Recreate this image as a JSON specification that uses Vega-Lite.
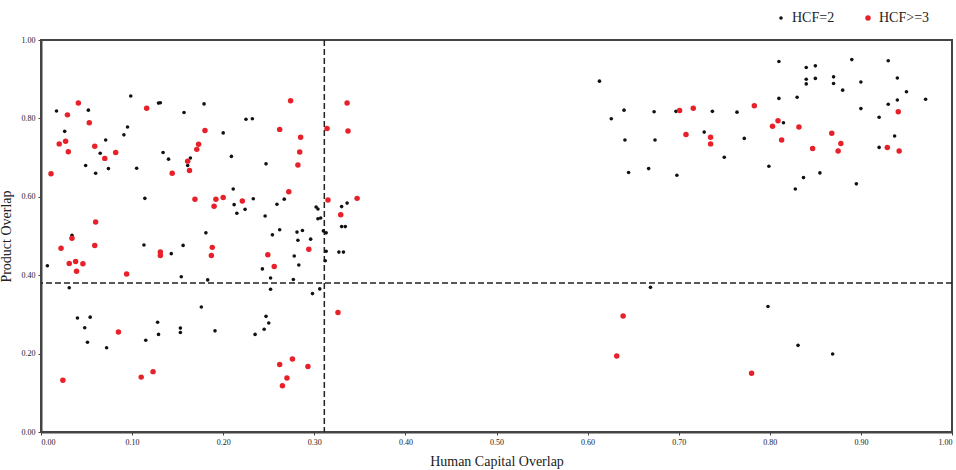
{
  "$schema": "https://vega.github.io/schema/vega-lite/v6.json",
  "width": 911,
  "height": 392,
  "autosize": {"type": "none"},
  "padding": {"left": 41, "top": 40, "right": 4, "bottom": 38},
  "background": "white",
  "config": {
    "view": {"stroke": "#444", "strokeWidth": 2},
    "axis": {
      "grid": false,
      "labelFont": "Liberation Serif",
      "labelFontSize": 8,
      "labelColor": "#222",
      "titleFont": "Liberation Serif",
      "titleFontSize": 14,
      "titleFontWeight": "normal",
      "titleColor": "#222",
      "domainColor": "#444",
      "domainWidth": 2,
      "tickColor": "#444",
      "tickSize": 3
    }
  },
  "datasets": {
    "pts": [
      {"x":0.613,"y":0.895,"g":"HCF=2"},{"x":0.626,"y":0.799,"g":"HCF=2"},{"x":0.640,"y":0.821,"g":"HCF=2"},{"x":0.641,"y":0.745,"g":"HCF=2"},{"x":0.645,"y":0.662,"g":"HCF=2"},{"x":0.667,"y":0.672,"g":"HCF=2"},{"x":0.673,"y":0.817,"g":"HCF=2"},{"x":0.674,"y":0.745,"g":"HCF=2"},{"x":0.697,"y":0.818,"g":"HCF=2"},{"x":0.698,"y":0.655,"g":"HCF=2"},{"x":0.728,"y":0.765,"g":"HCF=2"},{"x":0.737,"y":0.818,"g":"HCF=2"},{"x":0.750,"y":0.701,"g":"HCF=2"},{"x":0.764,"y":0.816,"g":"HCF=2"},{"x":0.772,"y":0.749,"g":"HCF=2"},{"x":0.799,"y":0.678,"g":"HCF=2"},{"x":0.810,"y":0.945,"g":"HCF=2"},{"x":0.840,"y":0.930,"g":"HCF=2"},{"x":0.850,"y":0.934,"g":"HCF=2"},{"x":0.890,"y":0.950,"g":"HCF=2"},{"x":0.930,"y":0.947,"g":"HCF=2"},{"x":0.840,"y":0.900,"g":"HCF=2"},{"x":0.850,"y":0.902,"g":"HCF=2"},{"x":0.840,"y":0.888,"g":"HCF=2"},{"x":0.870,"y":0.906,"g":"HCF=2"},{"x":0.870,"y":0.889,"g":"HCF=2"},{"x":0.900,"y":0.893,"g":"HCF=2"},{"x":0.940,"y":0.903,"g":"HCF=2"},{"x":0.880,"y":0.872,"g":"HCF=2"},{"x":0.950,"y":0.868,"g":"HCF=2"},{"x":0.810,"y":0.851,"g":"HCF=2"},{"x":0.830,"y":0.854,"g":"HCF=2"},{"x":0.940,"y":0.847,"g":"HCF=2"},{"x":0.971,"y":0.849,"g":"HCF=2"},{"x":0.930,"y":0.836,"g":"HCF=2"},{"x":0.900,"y":0.825,"g":"HCF=2"},{"x":0.920,"y":0.803,"g":"HCF=2"},{"x":0.815,"y":0.789,"g":"HCF=2"},{"x":0.937,"y":0.755,"g":"HCF=2"},{"x":0.920,"y":0.726,"g":"HCF=2"},{"x":0.855,"y":0.661,"g":"HCF=2"},{"x":0.837,"y":0.649,"g":"HCF=2"},{"x":0.828,"y":0.620,"g":"HCF=2"},{"x":0.895,"y":0.633,"g":"HCF=2"},{"x":0.669,"y":0.369,"g":"HCF=2"},{"x":0.798,"y":0.320,"g":"HCF=2"},{"x":0.831,"y":0.221,"g":"HCF=2"},{"x":0.869,"y":0.199,"g":"HCF=2"},
      {"x":0.0985,"y":0.857,"g":"HCF=2"},{"x":0.129,"y":0.839,"g":"HCF=2"},{"x":0.131,"y":0.840,"g":"HCF=2"},{"x":0.017,"y":0.819,"g":"HCF=2"},{"x":0.052,"y":0.821,"g":"HCF=2"},{"x":0.157,"y":0.815,"g":"HCF=2"},{"x":0.026,"y":0.767,"g":"HCF=2"},{"x":0.095,"y":0.778,"g":"HCF=2"},{"x":0.091,"y":0.758,"g":"HCF=2"},{"x":0.071,"y":0.745,"g":"HCF=2"},{"x":0.065,"y":0.711,"g":"HCF=2"},{"x":0.074,"y":0.672,"g":"HCF=2"},{"x":0.049,"y":0.680,"g":"HCF=2"},{"x":0.060,"y":0.660,"g":"HCF=2"},{"x":0.105,"y":0.673,"g":"HCF=2"},{"x":0.134,"y":0.713,"g":"HCF=2"},{"x":0.140,"y":0.696,"g":"HCF=2"},{"x":0.164,"y":0.699,"g":"HCF=2"},{"x":0.161,"y":0.680,"g":"HCF=2"},{"x":0.114,"y":0.596,"g":"HCF=2"},{"x":0.034,"y":0.502,"g":"HCF=2"},{"x":0.113,"y":0.477,"g":"HCF=2"},{"x":0.156,"y":0.476,"g":"HCF=2"},{"x":0.179,"y":0.837,"g":"HCF=2"},{"x":0.225,"y":0.798,"g":"HCF=2"},{"x":0.232,"y":0.799,"g":"HCF=2"},{"x":0.200,"y":0.763,"g":"HCF=2"},{"x":0.209,"y":0.703,"g":"HCF=2"},{"x":0.247,"y":0.684,"g":"HCF=2"},{"x":0.211,"y":0.620,"g":"HCF=2"},{"x":0.233,"y":0.595,"g":"HCF=2"},{"x":0.212,"y":0.580,"g":"HCF=2"},{"x":0.224,"y":0.568,"g":"HCF=2"},{"x":0.215,"y":0.558,"g":"HCF=2"},{"x":0.259,"y":0.581,"g":"HCF=2"},{"x":0.267,"y":0.594,"g":"HCF=2"},{"x":0.246,"y":0.551,"g":"HCF=2"},{"x":0.181,"y":0.508,"g":"HCF=2"},{"x":0.254,"y":0.503,"g":"HCF=2"},{"x":0.262,"y":0.516,"g":"HCF=2"},{"x":0.281,"y":0.510,"g":"HCF=2"},{"x":0.287,"y":0.514,"g":"HCF=2"},{"x":0.282,"y":0.489,"g":"HCF=2"},{"x":0.296,"y":0.492,"g":"HCF=2"},{"x":0.302,"y":0.574,"g":"HCF=2"},{"x":0.304,"y":0.569,"g":"HCF=2"},{"x":0.304,"y":0.544,"g":"HCF=2"},{"x":0.307,"y":0.546,"g":"HCF=2"},{"x":0.310,"y":0.513,"g":"HCF=2"},{"x":0.313,"y":0.508,"g":"HCF=2"},{"x":0.330,"y":0.575,"g":"HCF=2"},{"x":0.336,"y":0.584,"g":"HCF=2"},{"x":0.330,"y":0.524,"g":"HCF=2"},{"x":0.334,"y":0.524,"g":"HCF=2"},{"x":0.007,"y":0.424,"g":"HCF=2"},{"x":0.143,"y":0.455,"g":"HCF=2"},{"x":0.154,"y":0.396,"g":"HCF=2"},{"x":0.031,"y":0.368,"g":"HCF=2"},{"x":0.040,"y":0.291,"g":"HCF=2"},{"x":0.054,"y":0.293,"g":"HCF=2"},{"x":0.048,"y":0.266,"g":"HCF=2"},{"x":0.051,"y":0.229,"g":"HCF=2"},{"x":0.072,"y":0.215,"g":"HCF=2"},{"x":0.115,"y":0.234,"g":"HCF=2"},{"x":0.128,"y":0.280,"g":"HCF=2"},{"x":0.129,"y":0.249,"g":"HCF=2"},{"x":0.153,"y":0.265,"g":"HCF=2"},{"x":0.153,"y":0.254,"g":"HCF=2"},{"x":0.278,"y":0.449,"g":"HCF=2"},{"x":0.283,"y":0.426,"g":"HCF=2"},{"x":0.243,"y":0.416,"g":"HCF=2"},{"x":0.252,"y":0.393,"g":"HCF=2"},{"x":0.277,"y":0.389,"g":"HCF=2"},{"x":0.183,"y":0.388,"g":"HCF=2"},{"x":0.252,"y":0.364,"g":"HCF=2"},{"x":0.298,"y":0.353,"g":"HCF=2"},{"x":0.306,"y":0.365,"g":"HCF=2"},{"x":0.176,"y":0.319,"g":"HCF=2"},{"x":0.247,"y":0.295,"g":"HCF=2"},{"x":0.250,"y":0.278,"g":"HCF=2"},{"x":0.245,"y":0.262,"g":"HCF=2"},{"x":0.235,"y":0.249,"g":"HCF=2"},{"x":0.191,"y":0.258,"g":"HCF=2"},{"x":0.313,"y":0.461,"g":"HCF=2"},{"x":0.327,"y":0.459,"g":"HCF=2"},{"x":0.332,"y":0.459,"g":"HCF=2"},{"x":0.312,"y":0.437,"g":"HCF=2"},
      {"x":0.701,"y":0.820,"g":"HCF>=3"},{"x":0.716,"y":0.826,"g":"HCF>=3"},{"x":0.708,"y":0.759,"g":"HCF>=3"},{"x":0.735,"y":0.752,"g":"HCF>=3"},{"x":0.735,"y":0.735,"g":"HCF>=3"},{"x":0.783,"y":0.832,"g":"HCF>=3"},{"x":0.809,"y":0.794,"g":"HCF>=3"},{"x":0.803,"y":0.780,"g":"HCF>=3"},{"x":0.832,"y":0.778,"g":"HCF>=3"},{"x":0.813,"y":0.745,"g":"HCF>=3"},{"x":0.868,"y":0.762,"g":"HCF>=3"},{"x":0.878,"y":0.736,"g":"HCF>=3"},{"x":0.875,"y":0.717,"g":"HCF>=3"},{"x":0.847,"y":0.723,"g":"HCF>=3"},{"x":0.929,"y":0.726,"g":"HCF>=3"},{"x":0.942,"y":0.717,"g":"HCF>=3"},{"x":0.941,"y":0.817,"g":"HCF>=3"},{"x":0.639,"y":0.296,"g":"HCF>=3"},{"x":0.632,"y":0.194,"g":"HCF>=3"},{"x":0.780,"y":0.150,"g":"HCF>=3"},
      {"x":0.041,"y":0.839,"g":"HCF>=3"},{"x":0.029,"y":0.809,"g":"HCF>=3"},{"x":0.116,"y":0.826,"g":"HCF>=3"},{"x":0.053,"y":0.789,"g":"HCF>=3"},{"x":0.027,"y":0.742,"g":"HCF>=3"},{"x":0.020,"y":0.735,"g":"HCF>=3"},{"x":0.030,"y":0.715,"g":"HCF>=3"},{"x":0.059,"y":0.729,"g":"HCF>=3"},{"x":0.070,"y":0.698,"g":"HCF>=3"},{"x":0.082,"y":0.713,"g":"HCF>=3"},{"x":0.011,"y":0.659,"g":"HCF>=3"},{"x":0.144,"y":0.660,"g":"HCF>=3"},{"x":0.173,"y":0.734,"g":"HCF>=3"},{"x":0.171,"y":0.721,"g":"HCF>=3"},{"x":0.161,"y":0.691,"g":"HCF>=3"},{"x":0.163,"y":0.667,"g":"HCF>=3"},{"x":0.169,"y":0.594,"g":"HCF>=3"},{"x":0.060,"y":0.536,"g":"HCF>=3"},{"x":0.034,"y":0.494,"g":"HCF>=3"},{"x":0.022,"y":0.469,"g":"HCF>=3"},{"x":0.059,"y":0.476,"g":"HCF>=3"},{"x":0.180,"y":0.769,"g":"HCF>=3"},{"x":0.274,"y":0.845,"g":"HCF>=3"},{"x":0.336,"y":0.839,"g":"HCF>=3"},{"x":0.262,"y":0.772,"g":"HCF>=3"},{"x":0.314,"y":0.774,"g":"HCF>=3"},{"x":0.337,"y":0.768,"g":"HCF>=3"},{"x":0.285,"y":0.752,"g":"HCF>=3"},{"x":0.284,"y":0.714,"g":"HCF>=3"},{"x":0.282,"y":0.681,"g":"HCF>=3"},{"x":0.272,"y":0.613,"g":"HCF>=3"},{"x":0.192,"y":0.594,"g":"HCF>=3"},{"x":0.190,"y":0.576,"g":"HCF>=3"},{"x":0.200,"y":0.598,"g":"HCF>=3"},{"x":0.221,"y":0.589,"g":"HCF>=3"},{"x":0.315,"y":0.592,"g":"HCF>=3"},{"x":0.347,"y":0.596,"g":"HCF>=3"},{"x":0.329,"y":0.554,"g":"HCF>=3"},{"x":0.188,"y":0.471,"g":"HCF>=3"},{"x":0.294,"y":0.466,"g":"HCF>=3"},{"x":0.031,"y":0.430,"g":"HCF>=3"},{"x":0.038,"y":0.435,"g":"HCF>=3"},{"x":0.046,"y":0.429,"g":"HCF>=3"},{"x":0.039,"y":0.410,"g":"HCF>=3"},{"x":0.094,"y":0.403,"g":"HCF>=3"},{"x":0.131,"y":0.459,"g":"HCF>=3"},{"x":0.131,"y":0.450,"g":"HCF>=3"},{"x":0.085,"y":0.255,"g":"HCF>=3"},{"x":0.024,"y":0.132,"g":"HCF>=3"},{"x":0.110,"y":0.140,"g":"HCF>=3"},{"x":0.123,"y":0.154,"g":"HCF>=3"},{"x":0.187,"y":0.450,"g":"HCF>=3"},{"x":0.249,"y":0.452,"g":"HCF>=3"},{"x":0.256,"y":0.422,"g":"HCF>=3"},{"x":0.326,"y":0.305,"g":"HCF>=3"},{"x":0.276,"y":0.186,"g":"HCF>=3"},{"x":0.262,"y":0.172,"g":"HCF>=3"},{"x":0.293,"y":0.167,"g":"HCF>=3"},{"x":0.270,"y":0.138,"g":"HCF>=3"},{"x":0.265,"y":0.118,"g":"HCF>=3"}
    ],
    "vline": [{"v": 0.311}],
    "hline": [{"v": 0.38}]
  },
  "layer": [
    {
      "data": {"name": "vline"},
      "mark": {"type": "rule", "strokeDash": [6, 3], "strokeWidth": 1.5, "color": "#222"},
      "encoding": {"x": {"field": "v", "type": "quantitative"}}
    },
    {
      "data": {"name": "hline"},
      "mark": {"type": "rule", "strokeDash": [6, 3], "strokeWidth": 1.5, "color": "#222"},
      "encoding": {"y": {"field": "v", "type": "quantitative"}}
    },
    {
      "data": {"name": "pts"},
      "mark": {"type": "circle", "opacity": 1},
      "encoding": {
        "x": {
          "field": "x", "type": "quantitative",
          "scale": {"domain": [0, 1], "nice": false, "zero": false},
          "axis": {"values": [0,0.1,0.2,0.3,0.4,0.5,0.6,0.7,0.8,0.9,1.0], "format": ".2f", "title": "Human Capital Overlap", "titlePadding": 8, "labelPadding": 3}
        },
        "y": {
          "field": "y", "type": "quantitative",
          "scale": {"domain": [0, 1], "nice": false, "zero": false},
          "axis": {"values": [0,0.1,0.2,0.3,0.4,0.5,0.6,0.7,0.8,0.9,1.0], "format": ".2f", "title": "Product Overlap", "titlePadding": 8, "labelPadding": 3}
        },
        "color": {
          "field": "g", "type": "nominal",
          "scale": {"domain": ["HCF=2", "HCF>=3"], "range": ["#111111", "#e8202a"]},
          "legend": {
            "title": null, "orient": "none", "direction": "horizontal",
            "legendX": 733, "legendY": -29,
            "labelFont": "Liberation Serif", "labelFontSize": 14, "labelColor": "#222",
            "symbolType": "circle", "columnPadding": 26, "labelOffset": 4
          }
        },
        "size": {
          "field": "g", "type": "nominal",
          "scale": {"domain": ["HCF=2", "HCF>=3"], "range": [13, 30]}
        }
      }
    }
  ]
}
